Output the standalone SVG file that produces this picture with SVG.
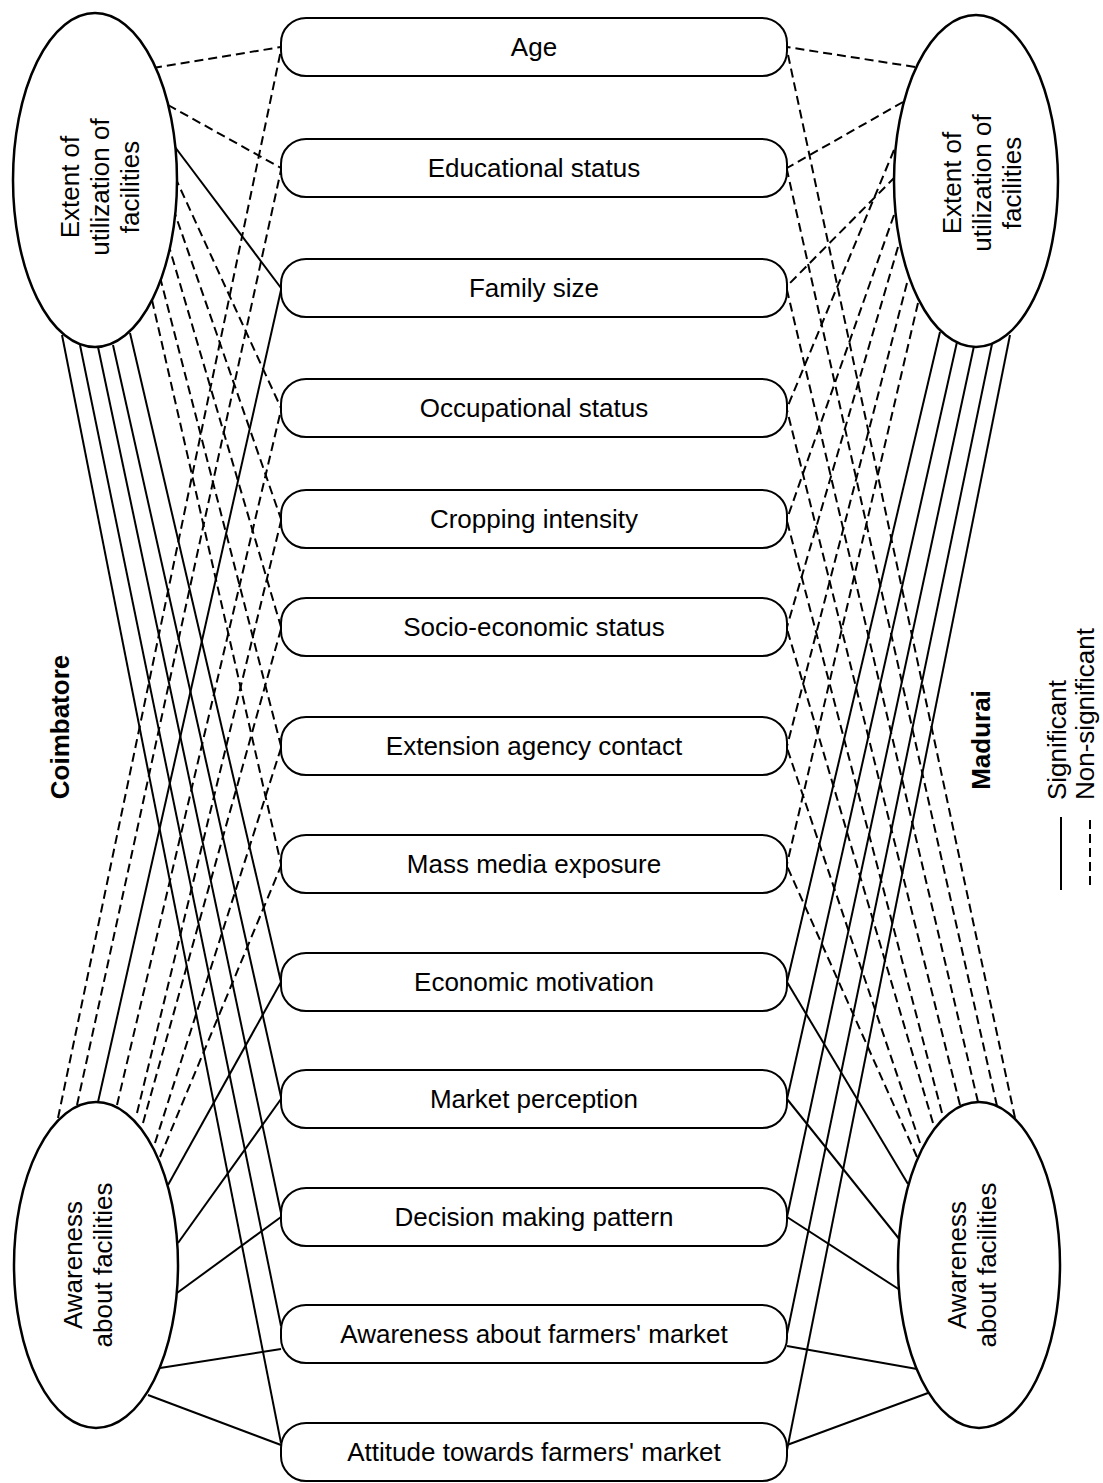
<svg xmlns="http://www.w3.org/2000/svg" width="1103" height="1483" viewBox="0 0 1103 1483">
<style>
text{font-family:"Liberation Sans",Arial,sans-serif;font-size:26px;fill:#000}
.b{text-anchor:middle}
.bold{font-weight:bold}
.box{fill:#fff;stroke:#000;stroke-width:2}
.ell{fill:#fff;stroke:#000;stroke-width:2.5}
.s{stroke:#000;stroke-width:2;fill:none}
.d{stroke:#000;stroke-width:2;fill:none;stroke-dasharray:9 5}
</style>
<rect width="1103" height="1483" fill="#fff"/>
<g id="connectors">
<!-- LT -->
<line class="d" x1="153" y1="68" x2="281" y2="47"/>
<line class="d" x1="168" y1="105" x2="281" y2="168"/>
<line class="s" x1="172" y1="143" x2="281" y2="288"/>
<line class="d" x1="175" y1="177" x2="281" y2="408"/>
<line class="d" x1="173" y1="208" x2="281" y2="519"/>
<line class="d" x1="168" y1="243" x2="281" y2="627"/>
<line class="d" x1="160" y1="277" x2="281" y2="746"/>
<line class="d" x1="152" y1="300" x2="281" y2="864"/>
<line class="s" x1="130" y1="333" x2="281" y2="982"/>
<line class="s" x1="113" y1="345" x2="281" y2="1097"/>
<line class="s" x1="98" y1="347" x2="281" y2="1213"/>
<line class="s" x1="80" y1="345" x2="281" y2="1326"/>
<line class="s" x1="62" y1="335" x2="281" y2="1443"/>
<!-- LB -->
<line class="d" x1="58" y1="1118" x2="281" y2="50"/>
<line class="d" x1="77" y1="1105" x2="281" y2="170"/>
<line class="s" x1="98" y1="1102" x2="281" y2="290"/>
<line class="d" x1="117" y1="1105" x2="281" y2="410"/>
<line class="d" x1="137" y1="1113" x2="281" y2="521"/>
<line class="d" x1="143" y1="1123" x2="281" y2="629"/>
<line class="d" x1="155" y1="1143" x2="281" y2="748"/>
<line class="d" x1="160" y1="1157" x2="281" y2="866"/>
<line class="s" x1="168" y1="1185" x2="281" y2="982"/>
<line class="s" x1="178" y1="1243" x2="281" y2="1099"/>
<line class="s" x1="177" y1="1293" x2="281" y2="1217"/>
<line class="s" x1="160" y1="1368" x2="281" y2="1349"/>
<line class="s" x1="148" y1="1395" x2="281" y2="1445"/>
<!-- RT -->
<line class="d" x1="915" y1="67" x2="787" y2="47"/>
<line class="d" x1="903" y1="102" x2="787" y2="168"/>
<line class="d" x1="894" y1="150" x2="787" y2="408"/>
<line class="d" x1="895" y1="177" x2="787" y2="286"/>
<line class="d" x1="894" y1="215" x2="787" y2="519"/>
<line class="d" x1="898" y1="247" x2="787" y2="627"/>
<line class="d" x1="907" y1="283" x2="787" y2="746"/>
<line class="d" x1="918" y1="303" x2="787" y2="864"/>
<line class="s" x1="940" y1="332" x2="787" y2="982"/>
<line class="s" x1="957" y1="342" x2="787" y2="1099"/>
<line class="s" x1="974" y1="346" x2="787" y2="1217"/>
<line class="s" x1="992" y1="344" x2="787" y2="1334"/>
<line class="s" x1="1010" y1="335" x2="787" y2="1450"/>
<!-- RB -->
<line class="d" x1="1015" y1="1118" x2="787" y2="50"/>
<line class="d" x1="997" y1="1106" x2="787" y2="170"/>
<line class="d" x1="978" y1="1102" x2="787" y2="290"/>
<line class="d" x1="960" y1="1105" x2="787" y2="410"/>
<line class="d" x1="942" y1="1113" x2="787" y2="521"/>
<line class="d" x1="933" y1="1123" x2="787" y2="629"/>
<line class="d" x1="920" y1="1143" x2="787" y2="748"/>
<line class="d" x1="917" y1="1157" x2="787" y2="866"/>
<line class="s" x1="908" y1="1184" x2="787" y2="982"/>
<line class="s" x1="900" y1="1240" x2="787" y2="1099"/>
<line class="s" x1="900" y1="1290" x2="787" y2="1217"/>
<line class="s" x1="917" y1="1369" x2="787" y2="1346"/>
<line class="s" x1="928" y1="1393" x2="787" y2="1445"/>
</g>
<g id="n-age"><rect class="box" x="281" y="18" width="506" height="58" rx="25"/><text class="b" x="534" y="56">Age</text></g>
<g id="n-edu"><rect class="box" x="281" y="139" width="506" height="58" rx="25"/><text class="b" x="534" y="177">Educational status</text></g>
<g id="n-fam"><rect class="box" x="281" y="259" width="506" height="58" rx="25"/><text class="b" x="534" y="297">Family size</text></g>
<g id="n-occ"><rect class="box" x="281" y="379" width="506" height="58" rx="25"/><text class="b" x="534" y="417">Occupational status</text></g>
<g id="n-crop"><rect class="box" x="281" y="490" width="506" height="58" rx="25"/><text class="b" x="534" y="528">Cropping intensity</text></g>
<g id="n-socio"><rect class="box" x="281" y="598" width="506" height="58" rx="25"/><text class="b" x="534" y="636">Socio-economic status</text></g>
<g id="n-ext"><rect class="box" x="281" y="717" width="506" height="58" rx="25"/><text class="b" x="534" y="755">Extension agency contact</text></g>
<g id="n-mass"><rect class="box" x="281" y="835" width="506" height="58" rx="25"/><text class="b" x="534" y="873">Mass media exposure</text></g>
<g id="n-econ"><rect class="box" x="281" y="953" width="506" height="58" rx="25"/><text class="b" x="534" y="991">Economic motivation</text></g>
<g id="n-market"><rect class="box" x="281" y="1070" width="506" height="58" rx="25"/><text class="b" x="534" y="1108">Market perception</text></g>
<g id="n-decision"><rect class="box" x="281" y="1188" width="506" height="58" rx="25"/><text class="b" x="534" y="1226">Decision making pattern</text></g>
<g id="n-awarefm"><rect class="box" x="281" y="1305" width="506" height="58" rx="25"/><text class="b" x="534" y="1343">Awareness about farmers' market</text></g>
<g id="n-attitude"><rect class="box" x="281" y="1423" width="506" height="58" rx="25"/><text class="b" x="534" y="1461">Attitude towards farmers' market</text></g>
<g id="n-lt"><ellipse class="ell" cx="95" cy="180" rx="82" ry="167"/>
<text class="b" transform="translate(100,187) rotate(-90)"><tspan x="0" y="-21">Extent of</tspan><tspan x="0" y="9">utilization of</tspan><tspan x="0" y="39">facilities</tspan></text></g>
<g id="n-rt"><ellipse class="ell" cx="976" cy="181" rx="82" ry="166"/>
<text class="b" transform="translate(982,183) rotate(-90)"><tspan x="0" y="-21">Extent of</tspan><tspan x="0" y="9">utilization of</tspan><tspan x="0" y="39">facilities</tspan></text></g>
<g id="n-lb"><ellipse class="ell" cx="96" cy="1265" rx="82" ry="163"/>
<text class="b" transform="translate(88,1265) rotate(-90)"><tspan x="0" y="-6">Awareness</tspan><tspan x="0" y="24">about facilities</tspan></text></g>
<g id="n-rb"><ellipse class="ell" cx="979" cy="1265" rx="81" ry="163"/>
<text class="b" transform="translate(972,1265) rotate(-90)"><tspan x="0" y="-6">Awareness</tspan><tspan x="0" y="24">about facilities</tspan></text></g>
<g id="labels">
<text class="bold" text-anchor="middle" transform="translate(69,727) rotate(-90)">Coimbatore</text>
<text class="bold" text-anchor="middle" transform="translate(990,740) rotate(-90)">Madurai</text>
</g>
<g id="legend">
<line class="s" x1="1061" y1="817" x2="1061" y2="890"/>
<line class="d" x1="1090" y1="820" x2="1090" y2="890"/>
<text transform="translate(1066,800) rotate(-90)">Significant</text>
<text transform="translate(1094,800) rotate(-90)">Non-significant</text>
</g>
</svg>
